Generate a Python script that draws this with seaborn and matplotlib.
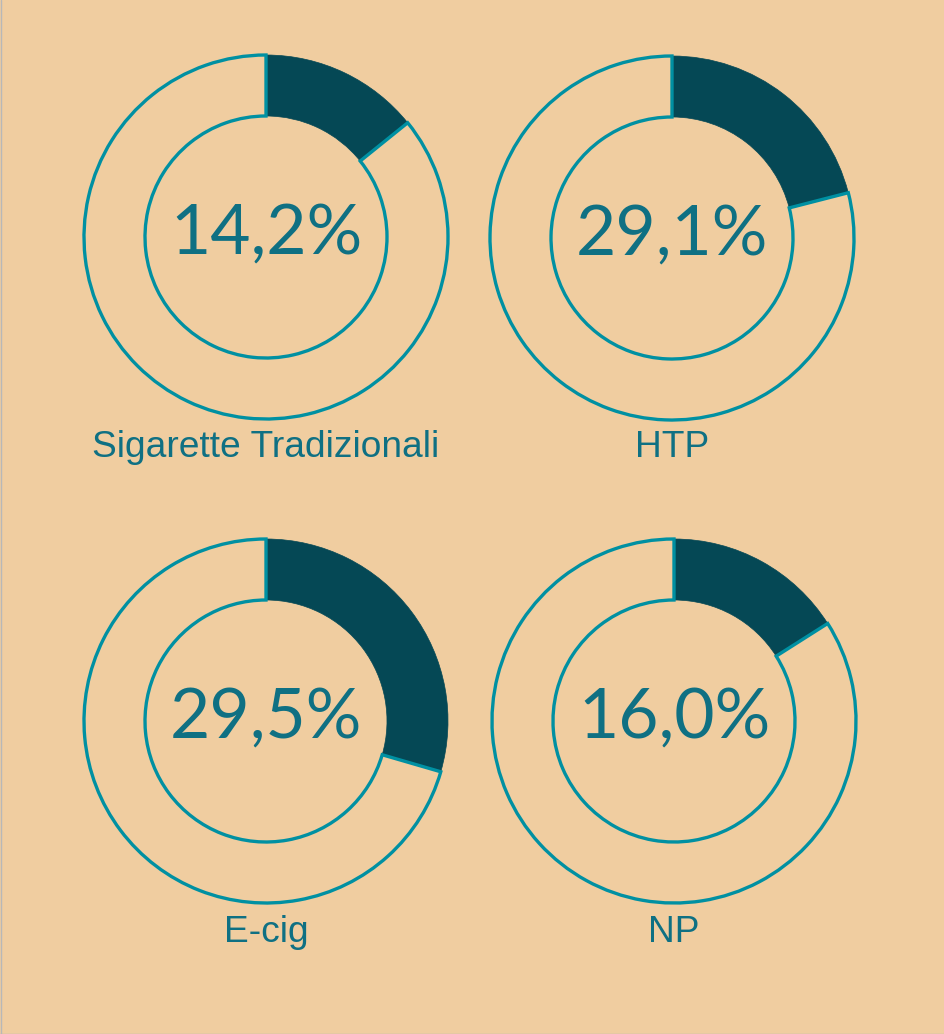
import matplotlib
matplotlib.use("Agg")
import matplotlib.pyplot as plt
import seaborn as sns

# Data
categories = ["Sigarette Tradizionali", "HTP", "E-cig", "NP"]
value_labels = ["14,2%", "29,1%", "29,5%", "16,0%"]
wedge_share = [14.2, 21.0, 29.5, 16.0]   # filled arc share as drawn in the reference

sns.set_theme(style="white")
plt.rcParams["font.family"] = ["Liberation Sans", "DejaVu Sans"]

BG = "#F0CDA0"
DARK = "#054855"
EDGE = "#0090A2"
TEXT = "#0F7083"

W, H = 945, 1034
fig = plt.figure(figsize=(W / 100, H / 100), dpi=100, facecolor=BG)
ax = fig.add_axes([0, 0, 1, 1])
ax.set_facecolor(BG)

centers = [(266, 237), (672, 238), (266, 721), (674, 721)]
radius = 182
ring = 61
label_y = [447, 447, 933, 933]

for i, (cat, lab, share) in enumerate(zip(categories, value_labels, wedge_share)):
    cx, cy = centers[i]
    wedges, _ = ax.pie([share, 100 - share], colors=[DARK, BG], startangle=90, counterclock=False,
                       center=(cx, H - cy), radius=radius, frame=True,
                       wedgeprops=dict(width=ring, linewidth=2.4))
    wedges[0].set_edgecolor(DARK)
    wedges[0].set_linewidth(0.5)
    wedges[0].set_zorder(1)
    wedges[1].set_edgecolor(EDGE)
    wedges[1].set_zorder(2)
    ax.text(cx, H - cy + 3, lab, ha="center", va="center", fontsize=50, color=TEXT,
            family=["Lato", "DejaVu Sans"], zorder=3)
    ax.text(cx, H - label_y[i], cat, ha="center", va="center", fontsize=26.7, color=TEXT,
            family=["Liberation Sans", "DejaVu Sans"], zorder=3)

ax.set_xlim(0, W)
ax.set_ylim(0, H)
ax.set_aspect("equal")
ax.axis("off")

# thin frame on left and bottom edges
fig.add_artist(plt.Line2D([0.5 / W, 0.5 / W], [0, 1], transform=fig.transFigure, color="#B8B8B8", lw=1))
fig.add_artist(plt.Line2D([0, 1], [0.5 / H, 0.5 / H], transform=fig.transFigure, color="#B8B8B8", lw=1))

fig.savefig("out.png", dpi=100, facecolor=BG)
